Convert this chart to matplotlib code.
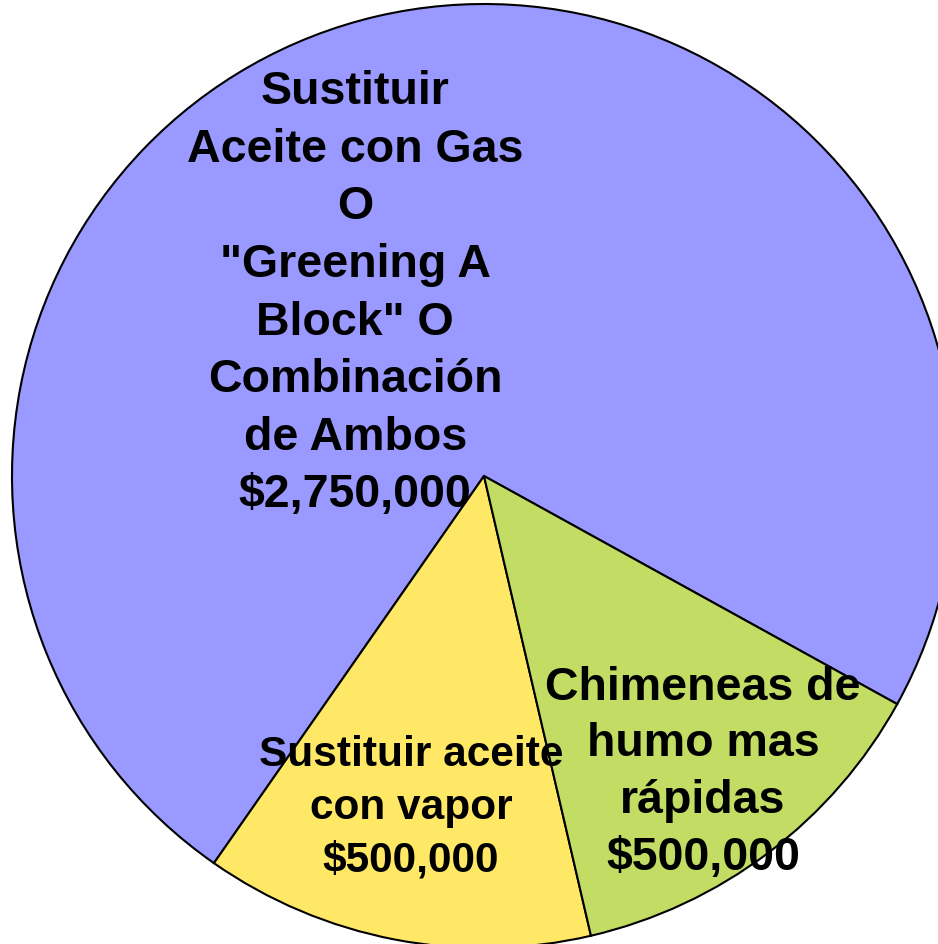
import matplotlib.pyplot as plt

# datos del gráfico
labels = [
    'Sustituir\nAceite con Gas\nO\n"Greening A\nBlock" O\nCombinación\nde Ambos\n$2,750,000',
    "Sustituir aceite\ncon vapor\n$500,000",
    "Chimeneas de\nhumo mas\nrápidas\n$500,000",
]
values = [2750000, 500000, 500000]
colors = ["#9999FF", "#FFE866", "#C2DC64"]
label_pos = [(-0.273, 0.388), (-0.155, -0.701), (0.464, -0.627)]
label_spacing = [1.40, 1.41, 1.38]
label_size = [33.5, 30.5, 33.5]

fig = plt.figure(figsize=(9.38, 9.45), dpi=100)
ax = fig.add_axes([0, 0, 1, 1])

ax.pie(
    values,
    colors=colors,
    startangle=-28.9,
    counterclock=True,
    radius=1.0,
    wedgeprops=dict(edgecolor="black", linewidth=1.5),
)

for text, (x, y), ls, fs in zip(labels, label_pos, label_spacing, label_size):
    ax.text(x, y, text, ha="center", va="center", fontsize=fs,
            fontweight="bold", family="Liberation Sans", linespacing=ls)

ax.set_xlim(-1.0254, 0.9619)
ax.set_ylim(-0.9915, 1.0106)
ax.set_aspect("auto")
ax.axis("off")

fig.savefig("out.png", dpi=100, facecolor="white")
